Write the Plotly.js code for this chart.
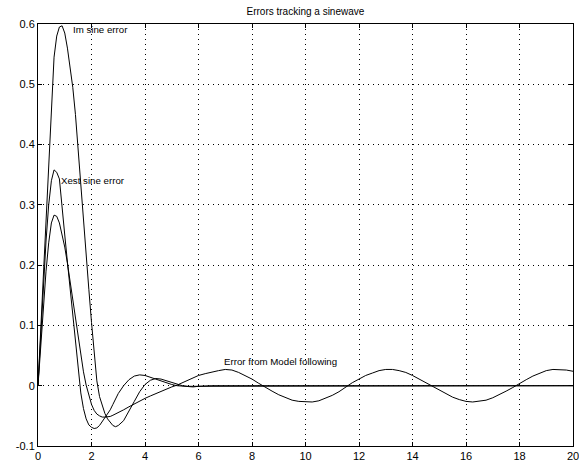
<!DOCTYPE html>
<html>
<head>
<meta charset="utf-8">
<script src="https://cdn.plot.ly/plotly-3.0.1.min.js"></script>
<style>html,body{margin:0;padding:0;background:#fff;}#chart{width:579px;height:468px;}</style>
</head>
<body>
<div id="chart"></div>
<script>
// time axis (s)
const t = [0,0.1,0.2,0.3,0.4,0.5,0.6,0.7,0.8,0.9,1.0,1.1,1.2,1.3,1.4,1.5,1.6,1.7,1.8,1.9,2.0,2.1,2.2,2.3,2.4,2.5,2.6,2.7,2.8,2.9,3.0,
  3.2,3.4,3.6,3.8,4.0,4.2,4.4,4.6,4.8,5.0,5.2,5.4,5.6,5.8,6.0,
  6.25,6.5,6.75,7.0,7.25,7.5,7.75,8.0,8.25,8.5,8.75,9.0,9.25,9.5,9.75,10.0,10.25,10.5,10.75,11.0,11.25,11.5,11.75,12.0,
  12.25,12.5,12.75,13.0,13.25,13.5,13.75,14.0,14.25,14.5,14.75,15.0,15.25,15.5,15.75,16.0,16.25,16.5,16.75,17.0,
  17.25,17.5,17.75,18.0,18.25,18.5,18.75,19.0,19.25,19.5,19.75,20.0];

const imSineError = [0,0.09,0.185,0.28,0.37,0.463,0.545,0.58,0.595,0.597,0.585,0.56,0.53,0.495,0.45,0.395,0.335,0.275,0.215,0.16,0.105,0.05,0.008,-0.018,-0.034,-0.046,-0.055,-0.061,-0.066,-0.068,-0.066,
  -0.058,-0.043,-0.026,-0.01,0.002,0.009,0.012,0.011,0.008,0.005,0.002,0.0,-0.001,-0.001,-0.001,
  0,0,0,0,0,0,0,0,0,0,0,0,0,0,0,0,0,0,0,0,0,0,0,0,0,0,0,0,0,0,0,0,0,0,0,0,0,0,0,0,0,0,0,0,0,0,0,0,0,0,0,0,0,0,0,0];

const xestSineError = [0,0.085,0.165,0.24,0.3,0.34,0.358,0.354,0.343,0.292,0.25,0.205,0.16,0.115,0.07,0.027,-0.012,-0.038,-0.055,-0.065,-0.069,-0.071,-0.070,-0.066,-0.06,-0.054,-0.048,-0.04,-0.031,-0.022,-0.013,
  0.0,0.01,0.016,0.018,0.017,0.014,0.01,0.007,0.004,0.002,0.0,-0.001,-0.002,-0.002,-0.001,
  0,0,0,0,0,0,0,0,0,0,0,0,0,0,0,0,0,0,0,0,0,0,0,0,0,0,0,0,0,0,0,0,0,0,0,0,0,0,0,0,0,0,0,0,0,0,0,0,0,0,0,0,0,0,0,0];

const modelFollowError = [0,0.065,0.13,0.19,0.237,0.27,0.283,0.281,0.27,0.252,0.23,0.203,0.173,0.142,0.11,0.08,0.05,0.023,0.001,-0.017,-0.031,-0.041,-0.047,-0.05,-0.052,-0.052,-0.052,-0.051,-0.049,-0.047,-0.045,
  -0.04,-0.035,-0.03,-0.025,-0.021,-0.017,-0.013,-0.009,-0.005,-0.002,0.001,0.005,0.009,0.013,0.017,
  0.020,0.023,0.025,0.027,0.026,0.022,0.017,0.011,0.004,-0.003,-0.009,-0.015,-0.02,-0.024,-0.026,-0.027,-0.027,-0.025,-0.021,-0.016,-0.01,-0.002,0.005,0.011,
  0.017,0.021,0.025,0.027,0.027,0.025,0.022,0.017,0.011,0.005,-0.002,-0.008,-0.014,-0.019,-0.023,-0.026,-0.027,-0.026,-0.024,-0.02,
  -0.015,-0.009,-0.003,0.004,0.01,0.016,0.021,0.025,0.027,0.027,0.026,0.024];

const titleText = "Errors tracking a sinewave";
const labelTexts = ["Im sine error", "Xest sine error", "Error from Model following"];
const labelX = [1.25, 0.785, 6.86];
const labelY = [0.5915, 0.3406, 0.041];

const xTicks = [0,2,4,6,8,10,12,14,16,18,20];
const yTicks = [-0.1,0,0.1,0.2,0.3,0.4,0.5,0.6];

const lineStyle = {color: '#000', width: 1};
const traces = [imSineError, xestSineError, modelFollowError].map(y => ({
  x: t, y: y, type: 'scatter', mode: 'lines', line: lineStyle, hoverinfo: 'skip'
}));

const fontFam = '"Liberation Sans", Arial, Helvetica, sans-serif';
const axisCommon = {
  showline: true, linecolor: '#000', linewidth: 1, mirror: 'ticks',
  ticks: 'inside', ticklen: 4, tickcolor: '#000', tickwidth: 1,
  showgrid: true, gridcolor: '#000', gridwidth: 1, griddash: '1px,4px',
  zeroline: false, tickfont: {family: fontFam, size: 11, color: '#000'},
  ticklabeloverflow: 'allow', fixedrange: true
};

const layout = {
  width: 579, height: 468,
  margin: {l: 38, r: 6, t: 24, b: 22, pad: 0},
  paper_bgcolor: '#fff', plot_bgcolor: '#fff',
  showlegend: false,
  title: {text: titleText, font: {family: fontFam, size: 10, color: '#000'}, x: 0.5275, xanchor: 'center', y: 0.976, yanchor: 'middle'},
  xaxis: Object.assign({}, axisCommon, {range: [0, 20], tickvals: xTicks, ticktext: xTicks.map(String)}),
  yaxis: Object.assign({}, axisCommon, {range: [-0.1, 0.6], tickvals: yTicks, ticktext: yTicks.map(v => String(v))}),
  annotations: labelTexts.map((s, i) => ({
    x: labelX[i], y: labelY[i], xref: 'x', yref: 'y', text: s, showarrow: false,
    xanchor: 'left', yanchor: 'middle', font: {family: fontFam, size: 9.7, color: '#000'}
  }))
};

Plotly.newPlot('chart', traces, layout, {staticPlot: true, displayModeBar: false});
</script>
</body>
</html>
